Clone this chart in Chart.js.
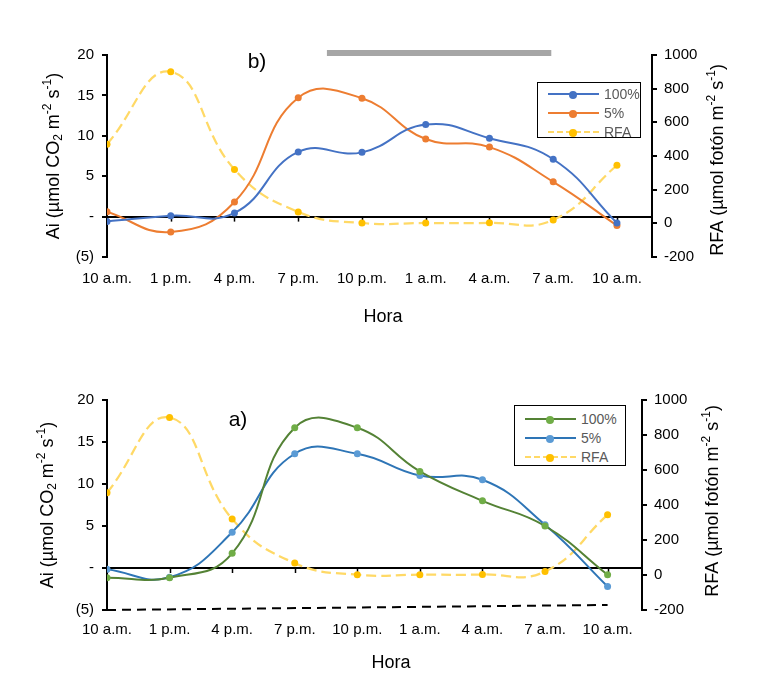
<!DOCTYPE html>
<html>
<head>
<meta charset="utf-8">
<script src="https://cdn.jsdelivr.net/npm/chart.js@4.4.1/dist/chart.umd.min.js"></script>
<style>
body { margin: 0; background: #fff; width: 765px; height: 686px; position: relative; overflow: hidden; font-family: "Liberation Sans", Arial, sans-serif; }
.panel { position: absolute; left: 0; width: 765px; height: 343px; }
.legend { position: absolute; border: 1px solid #000; background: #fff; font-size: 14px; color: #595959; box-sizing: border-box; padding-top: 1px; }
.row { height: 19px; display: flex; align-items: center; }
.sw { position: relative; width: 51px; height: 0; margin: 0 5px 0 10px; }
.sw i { position: absolute; left: 21px; top: -4px; width: 8px; height: 8px; border-radius: 50%; }
</style>
</head>
<body>
<div class="panel" style="top:0"><canvas id="chartB" width="765" height="343"></canvas></div>
<div class="panel" style="top:343px"><canvas id="chartA" width="765" height="343"></canvas></div>

<div class="legend" style="left:537px;top:82px;width:104px;height:56px">
  <div class="row"><span class="sw" style="border-top:2px solid #4472C4"><i style="background:#4472C4"></i></span>100%</div>
  <div class="row"><span class="sw" style="border-top:2px solid #ED7D31"><i style="background:#ED7D31"></i></span>5%</div>
  <div class="row"><span class="sw" style="border-top:2px dashed #FFD966"><i style="background:#FFC000"></i></span>RFA</div>
</div>
<div class="legend" style="left:514px;top:405px;width:112px;height:61px;padding-top:3px">
  <div class="row"><span class="sw" style="border-top:2px solid #548235"><i style="background:#70AD47"></i></span>100%</div>
  <div class="row"><span class="sw" style="border-top:2px solid #2E75B6"><i style="background:#5B9BD5"></i></span>5%</div>
  <div class="row"><span class="sw" style="border-top:2px dashed #FFD966"><i style="background:#FFC000"></i></span>RFA</div>
</div>

<script>
// horas del día (eje x)
const horas = ['10 a.m.', '1 p.m.', '4 p.m.', '7 p.m.', '10 p.m.', '1 a.m.', '4 a.m.', '7 a.m.', '10 a.m.'];
// RFA (µmol fotón m-2 s-1), eje derecho
const rfa = [470, 900, 320, 68, 2, 2, 3, 20, 345];
// panel b)
const b100 = [-0.6, 0.1, 0.45, 8.0, 7.95, 11.4, 9.7, 7.1, -0.8];
const b5 = [0.6, -1.9, 1.8, 14.7, 14.65, 9.6, 8.6, 4.3, -1.1];
// panel a)
const a100 = [-1.15, -1.15, 1.75, 16.7, 16.7, 11.5, 8.0, 5.0, -0.8];
const a5 = [-0.15, -1.1, 4.25, 13.6, 13.6, 11.0, 10.5, 5.15, -2.2];
// linea discontinua negra del panel a) (extremos)
const trendA = [-5.0, -4.4];
// franja gris del panel b) (en unidades del eje x)
const nightSpan = [3.45, 6.97];

const H = 343;

function pts(arr) {
    return arr.map((v, i) => ({ x: i, y: v }));
}

function aiLabel(v) {
    if (v === 0) return '-';
    if (v < 0) return '(' + (-v) + ')';
    return v;
}

// texto con subíndices / superíndices, rotado -90°
function drawRich(ctx, parts, cx, cy) {
    const big = '18px "Liberation Sans", Arial, sans-serif';
    const small = '12px "Liberation Sans", Arial, sans-serif';
    let w = 0;
    parts.forEach(p => {
        ctx.font = p.s ? small : big;
        p.w = ctx.measureText(p.t).width;
        w += p.w;
    });
    ctx.save();
    ctx.translate(cx, cy);
    ctx.rotate(-Math.PI / 2);
    ctx.fillStyle = '#000';
    ctx.textBaseline = 'middle';
    let x = -w / 2;
    parts.forEach(p => {
        ctx.font = p.s ? small : big;
        let dy = 0;
        if (p.s === 'sub') dy = 5;
        if (p.s === 'sup') dy = -6;
        ctx.fillText(p.t, x, dy);
        x += p.w;
    });
    ctx.restore();
}

const aiTitle = [{ t: 'Ai (µmol CO' }, { t: '2', s: 'sub' }, { t: ' m' }, { t: '-2', s: 'sup' }, { t: ' s' }, { t: '-1', s: 'sup' }, { t: ')' }];
const rfaTitle = [{ t: 'RFA (µmol fotón m' }, { t: '-2', s: 'sup' }, { t: ' s' }, { t: '-1', s: 'sup' }, { t: ')' }];

function makeDeco(cfg) {
    return {
        id: 'deco',
        beforeDatasetsDraw(chart) {
            const ctx = chart.ctx;
            const xs = chart.scales.x, ys = chart.scales.y;
            const y0 = ys.getPixelForValue(0);
            ctx.save();
            ctx.strokeStyle = '#000';
            ctx.lineWidth = 1.5;
            for (let i = 0; i < horas.length; i++) {
                const x = Math.round(xs.getPixelForValue(i)) + 0.5;
                ctx.beginPath();
                ctx.moveTo(x, y0);
                ctx.lineTo(x, y0 + 5);
                ctx.stroke();
            }
            ctx.restore();
        },
        afterDraw(chart) {
            const ctx = chart.ctx;
            const xs = chart.scales.x;
            ctx.save();
            drawRich(ctx, aiTitle, cfg.leftTitle[0], cfg.leftTitle[1]);
            drawRich(ctx, rfaTitle, cfg.rightTitle[0], cfg.rightTitle[1]);
            ctx.fillStyle = '#000';
            ctx.textAlign = 'center';
            ctx.textBaseline = 'middle';
            ctx.font = '18px "Liberation Sans", Arial, sans-serif';
            ctx.fillText('Hora', cfg.hora[0], cfg.hora[1]);
            ctx.font = '21px "Liberation Sans", Arial, sans-serif';
            ctx.fillText(cfg.panel, cfg.panelPos[0], cfg.panelPos[1]);
            if (cfg.night) {
                const x1 = xs.getPixelForValue(cfg.night[0]);
                const x2 = xs.getPixelForValue(cfg.night[1]);
                ctx.fillStyle = '#A6A6A6';
                ctx.fillRect(x1, 50, x2 - x1, 6);
            }
            ctx.restore();
        }
    };
}

function makeChart(id, cfg) {
    const datasets = cfg.series.map(s => ({
        label: s.label,
        data: pts(s.data),
        yAxisID: 'y',
        borderColor: s.line,
        backgroundColor: s.dot,
        pointBackgroundColor: s.dot,
        pointBorderWidth: 0,
        pointRadius: 3.5,
        borderWidth: 2,
        tension: 0.45
    }));
    datasets.push({
        label: 'RFA',
        data: pts(rfa),
        yAxisID: 'y2',
        borderColor: '#FFD966',
        backgroundColor: '#FFC000',
        pointBackgroundColor: '#FFC000',
        pointBorderWidth: 0,
        pointRadius: 3.5,
        borderWidth: 2.25,
        borderDash: [10, 5],
        tension: 0.45
    });
    if (cfg.trend) {
        datasets.push({
            label: 'trend',
            data: [{ x: 0, y: cfg.trend[0] }, { x: horas.length - 1, y: cfg.trend[1] }],
            yAxisID: 'y',
            borderColor: '#000',
            borderWidth: 2,
            borderDash: [9, 6],
            pointRadius: 0,
            clip: false
        });
    }
    const area = cfg.area;
    const tickFont = { family: '"Liberation Sans", Arial, sans-serif', size: 15 };
    return new Chart(document.getElementById(id), {
        type: 'line',
        data: { datasets },
        options: {
            responsive: false,
            animation: false,
            devicePixelRatio: 1,
            layout: { padding: { top: area.top, left: 0, right: 0, bottom: 0 } },
            plugins: { legend: { display: false }, tooltip: { enabled: false } },
            scales: {
                x: {
                    type: 'linear',
                    min: 0,
                    max: cfg.xMax,
                    grid: { display: false, drawTicks: false },
                    border: { display: false },
                    ticks: {
                        stepSize: 1,
                        autoSkip: false,
                        maxRotation: 0,
                        includeBounds: false,
                        padding: cfg.xPad,
                        color: '#000',
                        font: tickFont,
                        callback: v => (Number.isInteger(v) && horas[v] !== undefined) ? horas[v] : ''
                    },
                    afterFit(s) { s.height = H - area.bottom; }
                },
                y: {
                    position: 'left',
                    min: -5,
                    max: 20,
                    grid: {
                        color: c => c.tick.value === 0 ? '#000' : 'rgba(0,0,0,0)',
                        lineWidth: 2,
                        tickColor: '#000',
                        tickLength: 5
                    },
                    border: { color: '#000', width: 2 },
                    ticks: { stepSize: 5, padding: 8, color: '#000', font: tickFont, callback: aiLabel },
                    afterFit(s) { s.width = area.left; }
                },
                y2: {
                    position: 'right',
                    min: -200,
                    max: 1000,
                    grid: { drawOnChartArea: false, tickColor: '#000', tickLength: 5, lineWidth: 2 },
                    border: { color: '#000', width: 2 },
                    ticks: { stepSize: 200, padding: 7, color: '#000', font: tickFont, callback: v => String(v) },
                    afterFit(s) { s.width = 765 - area.right; }
                }
            }
        },
        plugins: [makeDeco(cfg)]
    });
}

makeChart('chartB', {
    area: { left: 107, right: 652, top: 55, bottom: 257 },
    xMax: 8.55,
    xPad: 13,
    series: [
        { label: '100%', data: b100, line: '#4472C4', dot: '#4472C4' },
        { label: '5%', data: b5, line: '#ED7D31', dot: '#ED7D31' }
    ],
    leftTitle: [54, 156],
    rightTitle: [718, 160],
    hora: [383, 317],
    panel: 'b)',
    panelPos: [257, 62],
    night: nightSpan
});

makeChart('chartA', {
    area: { left: 107, right: 642, top: 57, bottom: 267 },
    xMax: 8.55,
    xPad: 11,
    series: [
        { label: '100%', data: a100, line: '#548235', dot: '#70AD47' },
        { label: '5%', data: a5, line: '#2E75B6', dot: '#5B9BD5' }
    ],
    trend: trendA,
    leftTitle: [48, 162],
    rightTitle: [713, 158],
    hora: [391, 320],
    panel: 'a)',
    panelPos: [238, 77]
});
</script>
</body>
</html>
